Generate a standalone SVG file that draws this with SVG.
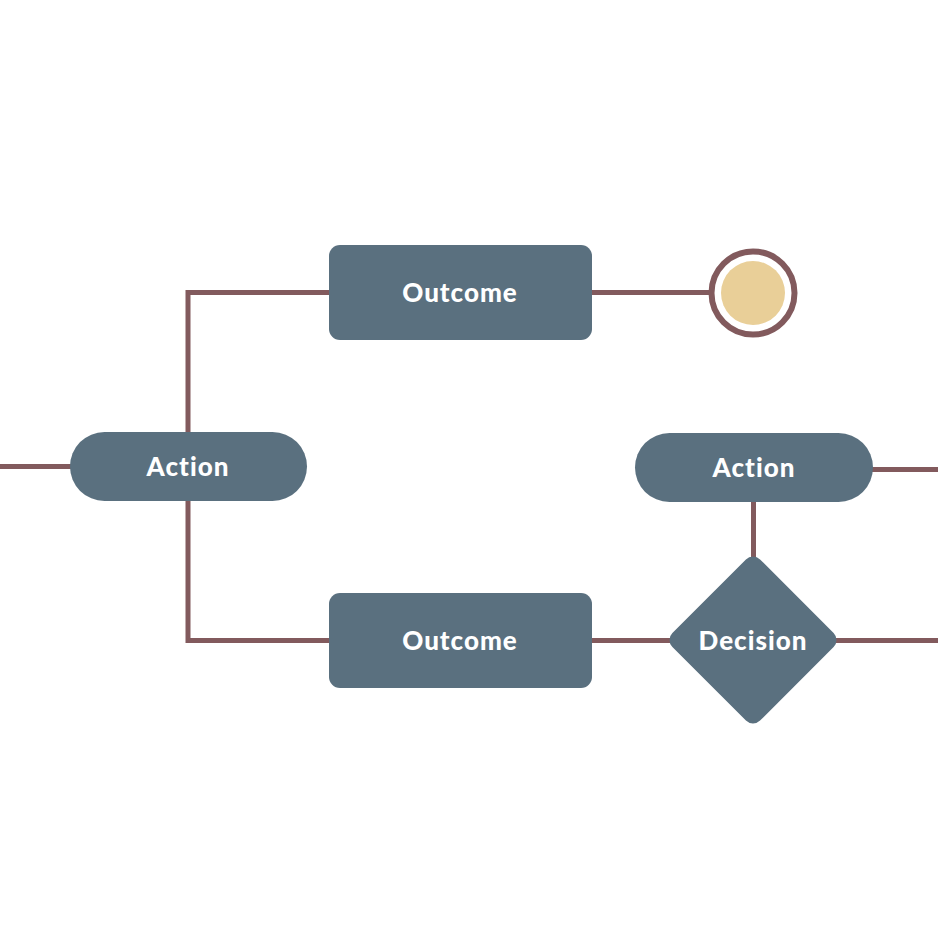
<svg xmlns="http://www.w3.org/2000/svg" width="938" height="938" viewBox="0 0 938 938">
<style>
.node{fill:#5a707f}
.lbl{fill:#ffffff;font-family:Lato,"Open Sans",sans-serif;font-weight:900;font-size:26px;text-anchor:middle;dominant-baseline:central;letter-spacing:1px}
.conn{fill:none;stroke:#825a5d;stroke-width:5}
</style>
<rect width="938" height="938" fill="#ffffff"/>
<g id="connectors">
<path class="conn" d="M0 466.5H72"/>
<path class="conn" d="M188 434V292.5H331"/>
<path class="conn" d="M188 499V640.5H331"/>
<path class="conn" d="M590 292.5H712"/>
<path class="conn" d="M590 640.5H674"/>
<path class="conn" d="M832 640.5H938"/>
<path class="conn" d="M871 469.5H938"/>
<path class="conn" d="M753.5 500V562"/>
</g>
<g id="action1">
<rect class="node" x="70" y="432" width="237" height="69" rx="34.5"/>
<text class="lbl" x="188" y="466">Action</text>
</g>
<g id="outcome1">
<rect class="node" x="329" y="245" width="263" height="95" rx="11"/>
<text class="lbl" x="460" y="292">Outcome</text>
</g>
<g id="end">
<circle cx="753" cy="293" r="41.5" fill="#ffffff" stroke="#825a5d" stroke-width="6"/>
<circle cx="753" cy="293" r="32" fill="#e9cf98"/>
</g>
<g id="action2">
<rect class="node" x="635" y="433" width="238" height="69" rx="34.5"/>
<text class="lbl" x="754" y="467">Action</text>
</g>
<g id="outcome2">
<rect class="node" x="329" y="593" width="263" height="95" rx="11"/>
<text class="lbl" x="460" y="640">Outcome</text>
</g>
<g id="decision">
<rect class="node" x="691" y="578" width="124" height="124" rx="10" transform="rotate(45 753 640)"/>
<text class="lbl" x="753" y="640">Decision</text>
</g>
</svg>
